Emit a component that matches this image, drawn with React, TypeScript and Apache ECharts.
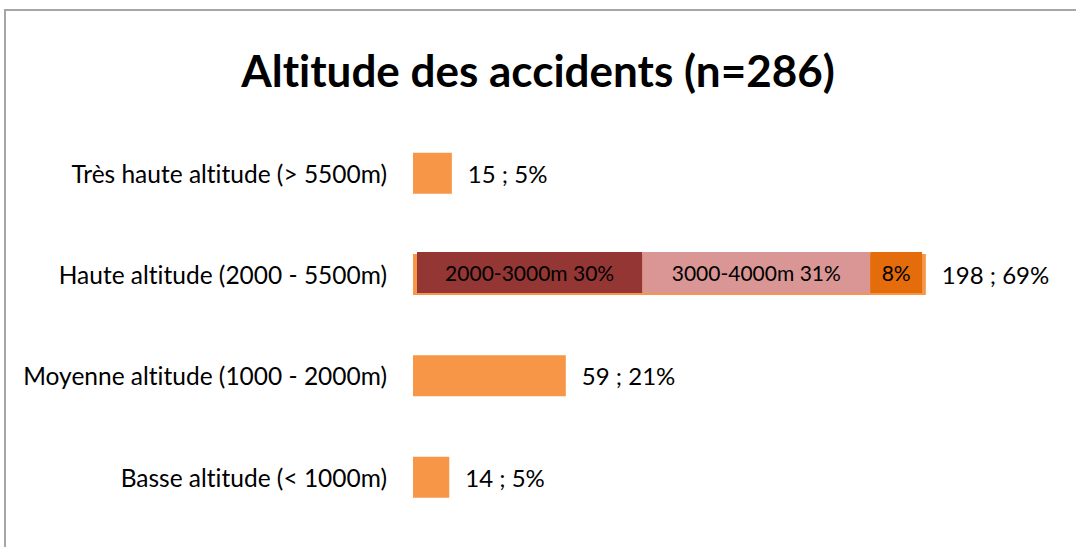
import React, { useEffect, useRef } from "react";
import * as echarts from "echarts";

const categories = [
  "Basse altitude (< 1000m)",
  "Moyenne altitude (1000 - 2000m)",
  "Haute altitude (2000 - 5500m)",
  "Très haute altitude (> 5500m)",
];
const counts = [14, 59, 198, 15];
const percents = [5, 21, 69, 5];

const subLabels = ["2000-3000m", "3000-4000m", ""];
const subValues = [87, 88, 20];
const subPercents = [30, 31, 8];
const subColors = ["#943634", "#D99694", "#E46C0A"];
const highIndex = 2;

const FONT = "Lato";
const X_MAX = 240;
const PX_PER_UNIT = 2.59;

export default function App() {
  const ref = useRef<HTMLDivElement>(null);
  useEffect(() => {
    if (!ref.current) return;
    const chart = echarts.init(ref.current, undefined, { renderer: "svg" });
    const plotW = X_MAX * PX_PER_UNIT;
    const left = 413;
    const top = 122.5;
    const plotH = 405.3;
    const right = 1076 - left - plotW;
    const bottom = 547 - top - plotH;
    const dx = 4;
    const dy = -2;

    const overlaySeries = subValues.map((v, i) => ({
      type: "bar",
      name: subLabels[i] || `${subPercents[i]}%`,
      xAxisIndex: 1,
      yAxisIndex: 1,
      stack: "high",
      barWidth: 41,
      data: categories.map((_, ci) => (ci === highIndex ? v : "-")),
      itemStyle: { color: subColors[i] },
      label: {
        show: true,
        position: "inside",
        color: "#000",
        fontFamily: FONT,
        fontSize: 21,
        formatter: () =>
          subLabels[i] ? `${subLabels[i]} ${subPercents[i]}%` : `${subPercents[i]}%`,
      },
    }));

    chart.setOption({
      animation: false,
      backgroundColor: "#fff",
      title: {
        text: "Altitude des accidents (n=286)",
        left: "center",
        top: 43,
        textStyle: { fontFamily: FONT, fontSize: 44, fontWeight: "bold", color: "#000" },
      },
      graphic: [
        {
          type: "rect",
          shape: { x: 5, y: 10, width: 1200, height: 700 },
          style: { fill: "none", stroke: "#a6a6a6", lineWidth: 2 },
          silent: true,
        },
      ],
      grid: [
        { left, right, top, bottom },
        { left: left + dx, right: right - dx, top: top + dy, bottom: bottom - dy },
      ],
      xAxis: [
        { type: "value", gridIndex: 0, min: 0, max: X_MAX, show: false },
        { type: "value", gridIndex: 1, min: 0, max: X_MAX, show: false },
      ],
      yAxis: [
        {
          type: "category",
          gridIndex: 0,
          data: categories,
          axisLine: { show: false },
          axisTick: { show: false },
          axisLabel: { margin: 26, color: "#000", fontFamily: FONT, fontSize: 24.5 },
        },
        {
          type: "category",
          gridIndex: 1,
          data: categories,
          show: false,
        },
      ],
      series: [
        {
          type: "bar",
          name: "Accidents",
          xAxisIndex: 0,
          yAxisIndex: 0,
          barWidth: 41,
          data: counts,
          itemStyle: { color: "#F79646" },
          label: {
            show: true,
            position: "right",
            distance: 16,
            color: "#000",
            fontFamily: FONT,
            fontSize: 24,
            formatter: (p: any) => `${counts[p.dataIndex]} ; ${percents[p.dataIndex]}%`,
          },
        },
        ...overlaySeries,
      ],
    });
    return () => chart.dispose();
  }, []);
  return (
    <div
      ref={ref}
      style={{
        position: "fixed",
        left: 0,
        top: 0,
        width: 1076,
        height: 547,
        fontVariantLigatures: "none",
        fontFeatureSettings: '"liga" 0, "clig" 0',
      }}
    />
  );
}
